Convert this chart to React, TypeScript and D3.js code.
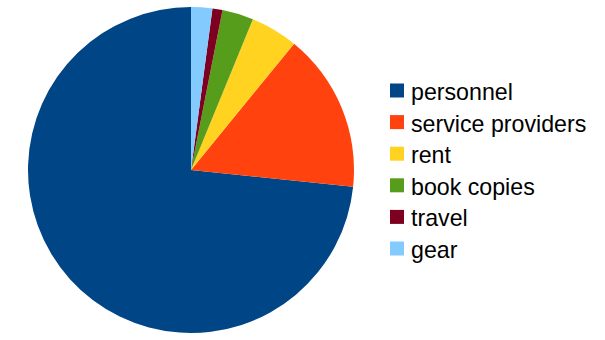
import React from "react";
import * as d3 from "d3";

const categories = ["personnel", "service providers", "rent", "book copies", "travel", "gear"];
const values = [73.4, 15.75, 4.7, 3.1, 1.0, 2.1];
const colors = ["#004586", "#ff420e", "#ffd320", "#579d1c", "#7e0021", "#83caff"];

const W = 605;
const H = 340;
const cx = 191;
const cy = 170;
const R = 163;

export default function App() {
  const data = categories.map((c, i) => ({ c, v: values[i], col: colors[i] }));
  const pie = d3
    .pie<any>()
    .value((d) => d.v)
    .sort(null)
    .startAngle(0)
    .endAngle(-2 * Math.PI);
  const arcs = pie(data);
  const arc = d3.arc<any>().innerRadius(0).outerRadius(R);
  const rowY = d3.scaleLinear().domain([0, categories.length - 1]).range([90.5, 248.5]);
  return (
    <svg
      width={W}
      height={H}
      style={{ position: "absolute", left: 0, top: 0, background: "#fff" }}
      fontFamily="'Liberation Sans', Arial, sans-serif"
    >
      <g transform={`translate(${cx},${cy})`}>
        {arcs.map((a, i) => (
          <path key={i} d={arc(a) as string} fill={a.data.col} />
        ))}
      </g>
      {data.map((d, i) => (
        <g key={d.c} transform={`translate(390,${rowY(i)})`}>
          <rect x={0} y={-7} width={14} height={14} fill={d.col} />
          <text x={21} y={9.5} fontSize={23.2} fill="#000">
            {d.c}
          </text>
        </g>
      ))}
    </svg>
  );
}
